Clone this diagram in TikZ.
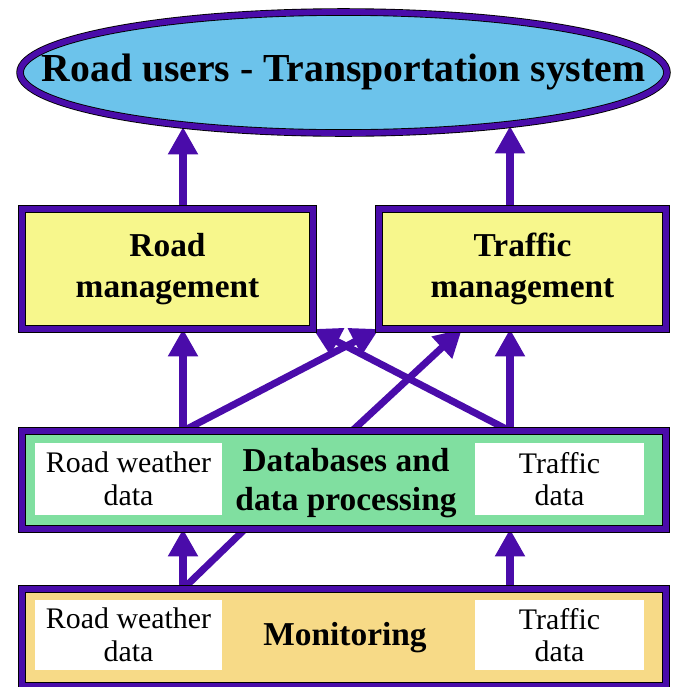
\documentclass[tikz,border=0pt]{standalone}
\usepackage{fontspec}
\setmainfont{Liberation Serif}
\usetikzlibrary{shapes.geometric}
\usetikzlibrary{arrows.meta}
\usetikzlibrary{backgrounds}

\definecolor{flowpurple}{RGB}{74,12,170}
\definecolor{userblue}{RGB}{108,195,235}
\definecolor{manyellow}{RGB}{247,247,140}
\definecolor{dbgreen}{RGB}{128,223,160}
\definecolor{mongold}{RGB}{247,218,135}

\begin{document}
\begin{tikzpicture}
				[x=0.02cm,y=-0.02cm,
				every node/.style={inner sep=0pt,outer sep=0pt},
				border/.style={draw=black,line width=0.5pt,double=flowpurple,double distance=3.3pt},
				usersell/.style={border,ellipse,fill=userblue,minimum width=12.94cm,minimum height=2.42cm},
				manbox/.style={border,rectangle,fill=manyellow,minimum height=2.4cm,align=center,font=\fontsize{19}{23}\selectfont\bfseries},
				layerbox/.style={border,rectangle,minimum width=12.88cm},
				databox/.style={rectangle,fill=white,minimum height=1.46cm,align=center,font=\fontsize{17}{18.5}\selectfont},
				layertext/.style={align=center,font=\fontsize{19}{22.5}\selectfont\bfseries},
				flow/.style={draw=flowpurple,line width=4pt,-{Triangle[width=0.57cm,length=0.55cm]}},
				link/.style={draw=flowpurple,line width=4pt}]
				
				\useasboundingbox (0,0) rectangle (675,687);
				
				\node[usersell,label={center:{\fontsize{22.6}{26}\selectfont\bfseries Road users - Transportation system}}] (U) at (343.5,72.5) {};
				
				\node[manbox,minimum width=5.82cm] (RM) at (167.5,269) {Road\\management};
				\node[manbox,minimum width=5.74cm] (TM) at (522.5,269) {Traffic\\management};
				
				\node[layerbox,fill=dbgreen,minimum height=1.96cm] (DB) at (344,480) {};
				\node[databox,minimum width=3.74cm] (DBW) at (128.5,479) {Road weather\\data};
				\node[databox,minimum width=3.38cm] (DBT) at (559.5,479) {Traffic\\data};
				\node[layertext] (DBL) at (346,483) {Databases and\\data processing};
				
				\node[layerbox,fill=mongold,minimum height=1.94cm] (M) at (344,637.5) {};
				\node[databox,minimum width=3.74cm,minimum height=1.4cm] (MW) at (128.5,635) {Road weather\\data};
				\node[databox,minimum width=3.38cm,minimum height=1.4cm] (MT) at (559.5,635) {Traffic\\data};
				\node[layertext] (ML) at (345,638) {Monitoring};
				
				\coordinate (lx) at (183,0);
				\coordinate (rx) at (510,0);
				\coordinate (mx) at (352,0);
				\coordinate (tx) at (462,0);
				\coordinate (dx) at (245,0);
				% where the two upper arrows meet the ellipse
				\coordinate (ul) at (183,127);
				\coordinate (ur) at (510,126);
				
				\begin{pgfonlayer}{background}
					\draw[flow] (lx |- RM.north) -- (ul);
					\draw[flow] (rx |- TM.north) -- (ur);
					
					\draw[flow] (lx |- DB.north) -- (lx |- RM.south);
					\draw[flow] (rx |- DB.north) -- (rx |- TM.south);
					\draw[flow] (lx |- DB.north) -- (TM.south west);
					\draw[flow] (rx |- DB.north) -- (RM.south east);
					\draw[flow] (mx |- DB.north) -- (tx |- TM.south);
					
					\draw[flow] (lx |- M.north) -- (lx |- DB.south);
					\draw[flow] (rx |- M.north) -- (rx |- DB.south);
					\draw[link] (lx |- M.north) -- (dx |- DB.south);
				\end{pgfonlayer}
			\end{tikzpicture}
\end{document}
